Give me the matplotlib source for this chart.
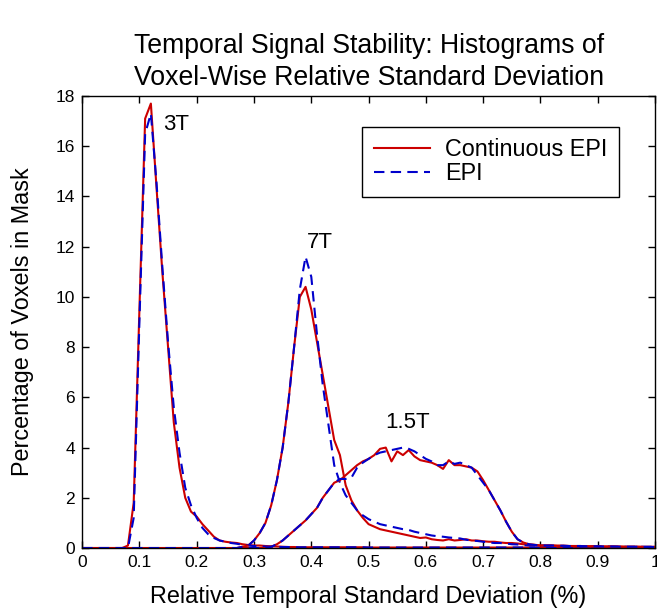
import numpy as np
import matplotlib
matplotlib.use('Agg')
from matplotlib import pyplot as plt

plt.rcParams['font.family'] = ['Liberation Sans', 'DejaVu Sans']

# bin positions (relative temporal std, %)
rel_sd = np.round(np.arange(0, 101) * 0.01, 2)

# 3T histograms (percentage of voxels)
t3_cont = [0, 0, 0, 0, 0, 0, 0, 0, 0.1, 1.8,
           9.5, 17.1, 17.7, 14.3, 11.0, 8.0, 5.0, 3.2, 2.0, 1.45,
           1.25, 0.95, 0.7, 0.45, 0.3, 0.25, 0.22, 0.2, 0.15, 0.12,
           0.1, 0.1, 0.08, 0.07, 0.06, 0.05, 0.04, 0.04, 0.03, 0.03,
           0.03, 0.03, 0.03, 0.03, 0.03, 0.03, 0.03, 0.03, 0.03, 0.03,
           0.02, 0.02, 0.02, 0.02, 0.02, 0.02, 0.02, 0.02, 0.02, 0.02,
           0.02, 0.02, 0.02, 0.02, 0.02, 0.02, 0.02, 0.02, 0.02, 0.02,
           0.02, 0.02, 0.02, 0.02, 0.02, 0.02, 0.02, 0.02, 0.02, 0.02,
           0.02, 0.02, 0.02, 0.02, 0.02, 0.02, 0.02, 0.02, 0.02, 0.02,
           0.02, 0.02, 0.02, 0.02, 0.02, 0.02, 0.02, 0.02, 0.02, 0.02, 0.02]
t3_epi = [0, 0, 0, 0, 0, 0, 0, 0, 0, 1.2,
          9.0, 16.5, 17.3, 14.5, 11.2, 8.2, 5.6, 3.8, 2.4, 1.7,
          1.2, 0.8, 0.55, 0.4, 0.3, 0.25, 0.2, 0.17, 0.13, 0.1,
          0.08, 0.07, 0.06, 0.05, 0.05, 0.04, 0.04, 0.03, 0.03, 0.03,
          0.03, 0.03, 0.03, 0.03, 0.03, 0.03, 0.03, 0.03, 0.03, 0.03,
          0.02, 0.02, 0.02, 0.02, 0.02, 0.02, 0.02, 0.02, 0.02, 0.02,
          0.02, 0.02, 0.02, 0.02, 0.02, 0.02, 0.02, 0.02, 0.02, 0.02,
          0.02, 0.02, 0.02, 0.02, 0.02, 0.02, 0.02, 0.02, 0.02, 0.02,
          0.02, 0.02, 0.02, 0.02, 0.02, 0.02, 0.02, 0.02, 0.02, 0.02,
          0.02, 0.02, 0.02, 0.02, 0.02, 0.02, 0.02, 0.02, 0.02, 0.02, 0.02]

# 7T histograms
t7_cont = [0, 0, 0, 0, 0, 0, 0, 0, 0, 0,
           0, 0, 0, 0, 0, 0, 0, 0, 0, 0,
           0, 0, 0, 0, 0, 0, 0, 0, 0.05, 0.1,
           0.3, 0.6, 1.0, 1.7, 2.7, 4.0, 5.8, 8.0, 10.0, 10.4,
           9.5, 8.2, 6.9, 5.6, 4.3, 3.7, 2.5, 1.9, 1.5, 1.2,
           0.95, 0.85, 0.75, 0.7, 0.65, 0.6, 0.55, 0.5, 0.45, 0.4,
           0.42, 0.35, 0.32, 0.3, 0.35, 0.3, 0.32, 0.35, 0.3, 0.3,
           0.27, 0.25, 0.25, 0.22, 0.2, 0.2, 0.18, 0.15, 0.13, 0.12,
           0.1, 0.1, 0.1, 0.09, 0.09, 0.08, 0.08, 0.08, 0.07, 0.07,
           0.07, 0.06, 0.06, 0.06, 0.06, 0.05, 0.05, 0.05, 0.05, 0.05, 0.05]
t7_epi = [0, 0, 0, 0, 0, 0, 0, 0, 0, 0,
          0, 0, 0, 0, 0, 0, 0, 0, 0, 0,
          0, 0, 0, 0, 0, 0, 0, 0, 0.05, 0.1,
          0.3, 0.6, 1.0, 1.7, 2.7, 4.0, 5.8, 8.0, 10.3, 11.6,
          10.8, 8.5, 6.5, 4.9, 3.3, 2.6, 2.1, 1.8, 1.5, 1.3,
          1.15, 1.05, 0.95, 0.9, 0.85, 0.8, 0.75, 0.72, 0.65, 0.6,
          0.55, 0.5, 0.47, 0.45, 0.42, 0.4, 0.38, 0.33, 0.3, 0.28,
          0.25, 0.22, 0.2, 0.2, 0.18, 0.15, 0.14, 0.12, 0.1, 0.1,
          0.1, 0.09, 0.09, 0.08, 0.08, 0.08, 0.07, 0.07, 0.07, 0.06,
          0.06, 0.06, 0.06, 0.05, 0.05, 0.05, 0.05, 0.05, 0.05, 0.05, 0.05]

# 1.5T histograms
t15_cont = [0, 0, 0, 0, 0, 0, 0, 0, 0, 0,
            0, 0, 0, 0, 0, 0, 0, 0, 0, 0,
            0, 0, 0, 0, 0, 0, 0, 0, 0, 0,
            0, 0, 0, 0.05, 0.15, 0.3, 0.5, 0.7, 0.9, 1.1,
            1.35, 1.6, 2.0, 2.3, 2.6, 2.7, 2.9, 3.1, 3.3, 3.45,
            3.55, 3.7, 3.95, 4.0, 3.45, 3.85, 3.7, 3.9, 3.65, 3.5,
            3.45, 3.4, 3.3, 3.15, 3.5, 3.3, 3.3, 3.25, 3.2, 3.05,
            2.7, 2.3, 1.9, 1.5, 1.05, 0.65, 0.35, 0.22, 0.15, 0.13,
            0.1, 0.1, 0.1, 0.09, 0.09, 0.08, 0.08, 0.08, 0.07, 0.07,
            0.07, 0.06, 0.06, 0.06, 0.05, 0.05, 0.05, 0.05, 0.04, 0.04, 0.04]
t15_epi = [0, 0, 0, 0, 0, 0, 0, 0, 0, 0,
           0, 0, 0, 0, 0, 0, 0, 0, 0, 0,
           0, 0, 0, 0, 0, 0, 0, 0, 0, 0,
           0, 0, 0, 0.05, 0.15, 0.3, 0.5, 0.7, 0.9, 1.1,
           1.35, 1.6, 2.0, 2.3, 2.6, 2.75, 2.75, 2.8, 3.2, 3.4,
           3.55, 3.7, 3.8, 3.85, 3.9, 3.95, 4.0, 3.95, 3.85, 3.7,
           3.55, 3.45, 3.3, 3.3, 3.45, 3.35, 3.4, 3.3, 3.2, 2.9,
           2.6, 2.3, 1.9, 1.5, 1.05, 0.65, 0.35, 0.22, 0.15, 0.12,
           0.1, 0.1, 0.1, 0.09, 0.09, 0.08, 0.08, 0.08, 0.07, 0.07,
           0.07, 0.06, 0.06, 0.06, 0.05, 0.05, 0.05, 0.05, 0.04, 0.04, 0.04]

field_labels = ['3T', '7T', '1.5T']
label_pos = [(0.141, 16.45), (0.393, 11.75), (0.529, 4.6)]

RED = '#cc0000'
BLUE = '#0000cc'

fig = plt.figure(figsize=(6.57, 6.10), dpi=100)
ax = fig.add_axes([0.125, 0.1016, 0.872, 0.741])

pairs = [(t3_cont, t3_epi), (t7_cont, t7_epi), (t15_cont, t15_epi)]
for i, (cont, epi) in enumerate(pairs):
    ax.plot(rel_sd, cont, color=RED, lw=1.5,
            label='Continuous EPI' if i == 0 else None)
    ax.plot(rel_sd, epi, color=BLUE, lw=1.5, dashes=(5, 3),
            label='EPI' if i == 0 else None)

for name, (lx, ly) in zip(field_labels, label_pos):
    ax.text(lx, ly, name, fontsize=16, ha='left', va='bottom')

ax.set_xlim(0, 1)
ax.set_ylim(0, 18)
ax.set_xticks(np.arange(0, 11) * 0.1)
ax.set_xticklabels(['0', '0.1', '0.2', '0.3', '0.4', '0.5', '0.6', '0.7',
                    '0.8', '0.9', '1'])
ax.set_yticks(np.arange(0, 19, 2))
ax.tick_params(direction='in', top=True, right=True, length=5, width=1,
               labelsize=12.5, pad=5)
for sp in ax.spines.values():
    sp.set_linewidth(1)

ax.set_xlabel('Relative Temporal Standard Deviation (%)', fontsize=16.8,
              labelpad=11)
ax.set_ylabel('Percentage of Voxels in Mask', fontsize=16.8, labelpad=16)
ax.set_title('Temporal Signal Stability: Histograms of\n'
             'Voxel-Wise Relative Standard Deviation', fontsize=19.2, pad=8,
             linespacing=1.3)

leg = ax.legend(loc='upper right', bbox_to_anchor=(0.937, 0.932),
                borderaxespad=0, fancybox=False, edgecolor='black',
                fontsize=16.8, handlelength=2.4, handletextpad=0.65,
                labelspacing=0.02, borderpad=0.5, framealpha=1)
leg.get_frame().set_linewidth(1)

fig.savefig('out.png', dpi=100)
